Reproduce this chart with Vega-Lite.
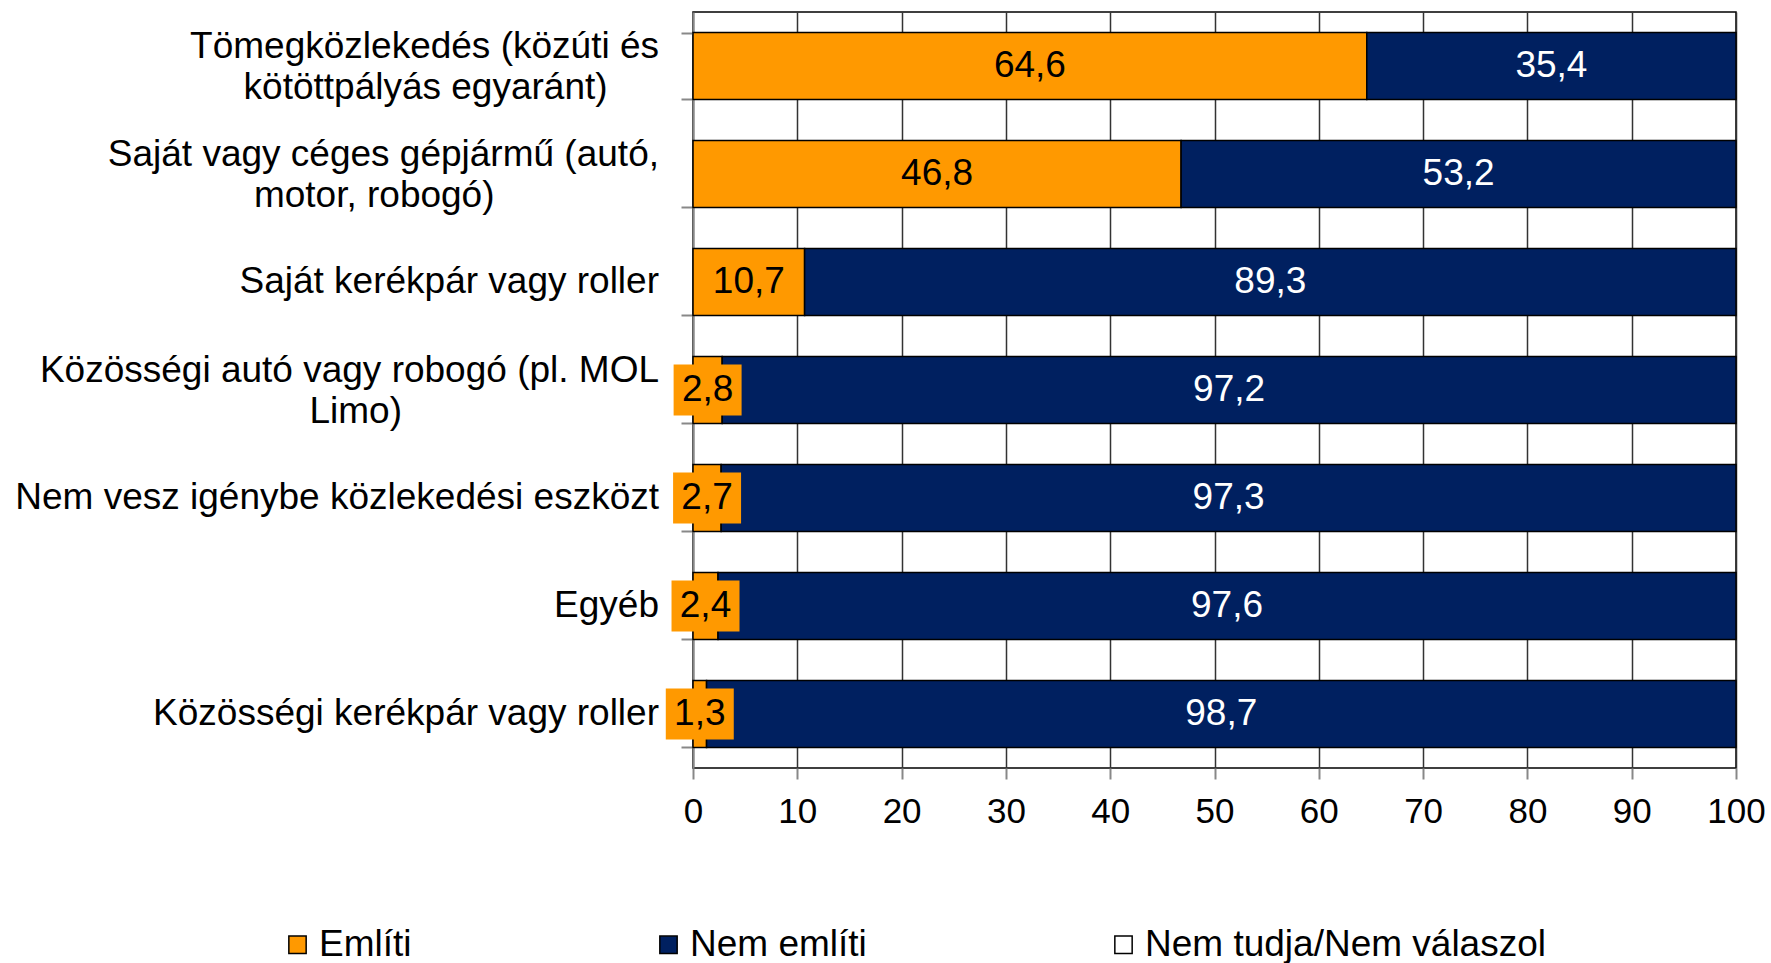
{
  "$schema": "https://vega.github.io/schema/vega-lite/v6.json",
  "width": 1043,
  "height": 756,
  "autosize": "none",
  "padding": {"left": 693, "top": 12, "right": 35, "bottom": 195},
  "background": "white",
  "config": {
    "font": "Liberation Sans",
    "locale": {"number": {"decimal": ",", "thousands": " ", "grouping": [3], "currency": ["", ""]}},
    "view": {"stroke": "black", "strokeWidth": 1.5}
  },
  "data": {
    "values": [
      {"cat": "Tömegközlekedés (közúti és|kötöttpályás egyaránt)", "series": "Említi", "value": 64.6},
      {"cat": "Tömegközlekedés (közúti és|kötöttpályás egyaránt)", "series": "Nem említi", "value": 35.4},
      {"cat": "Saját vagy céges gépjármű (autó,|motor, robogó)", "series": "Említi", "value": 46.8},
      {"cat": "Saját vagy céges gépjármű (autó,|motor, robogó)", "series": "Nem említi", "value": 53.2},
      {"cat": "Saját kerékpár vagy roller", "series": "Említi", "value": 10.7},
      {"cat": "Saját kerékpár vagy roller", "series": "Nem említi", "value": 89.3},
      {"cat": "Közösségi autó vagy robogó (pl. MOL|Limo)", "series": "Említi", "value": 2.8},
      {"cat": "Közösségi autó vagy robogó (pl. MOL|Limo)", "series": "Nem említi", "value": 97.2},
      {"cat": "Nem vesz igénybe közlekedési eszközt", "series": "Említi", "value": 2.7},
      {"cat": "Nem vesz igénybe közlekedési eszközt", "series": "Nem említi", "value": 97.3},
      {"cat": "Egyéb", "series": "Említi", "value": 2.4},
      {"cat": "Egyéb", "series": "Nem említi", "value": 97.6},
      {"cat": "Közösségi kerékpár vagy roller", "series": "Említi", "value": 1.3},
      {"cat": "Közösségi kerékpár vagy roller", "series": "Nem említi", "value": 98.7}
    ]
  },
  "transform": [
    {"stack": "value", "groupby": ["cat"], "sort": [{"field": "series", "order": "ascending"}], "as": ["v0", "v1"]},
    {"calculate": "(datum.v0 + datum.v1) / 2", "as": "mid"}
  ],
  "encoding": {
    "y": {
      "field": "cat",
      "type": "nominal",
      "sort": null,
      "title": null,
      "scale": {"paddingInner": 0.38, "paddingOuter": 0.19},
      "axis": {
        "labels": false,
        "tickBand": "extent",
        "tickSize": 12,
        "tickColor": "#888888",
        "tickWidth": 2,
        "domainColor": "#888888",
        "domainWidth": 2,
        "grid": false
      }
    }
  },
  "layer": [
    {
      "mark": {"type": "bar", "stroke": "black", "strokeWidth": 1.5},
      "encoding": {
        "x": {
          "field": "v0",
          "type": "quantitative",
          "title": null,
          "scale": {"domain": [0, 100], "nice": false},
          "axis": {
            "values": [0, 10, 20, 30, 40, 50, 60, 70, 80, 90, 100],
            "grid": true,
            "gridColor": "#333333",
            "gridWidth": 1.5,
            "domain": false,
            "tickColor": "#888888",
            "tickSize": 11,
            "tickWidth": 2,
            "labelFontSize": 35,
            "labelColor": "black",
            "labelPadding": 15,
            "labelFlush": false
          }
        },
        "x2": {"field": "v1"},
        "color": {
          "field": "series",
          "type": "nominal",
          "scale": {
            "domain": ["Említi", "Nem említi", "Nem tudja/Nem válaszol"],
            "range": ["#FF9900", "#002060", "#FFFFFF"]
          },
          "legend": {
            "title": null,
            "orient": "none",
            "direction": "horizontal",
            "legendX": -414,
            "legendY": 914,
            "columnPadding": 238,
            "symbolType": "square",
            "symbolSize": 300,
            "symbolStrokeColor": "black",
            "symbolStrokeWidth": 1.5,
            "labelFont": "Liberation Sans",
            "labelFontSize": 37,
            "labelColor": "black",
            "labelOffset": 3,
            "labelLimit": 0,
            "padding": 0
          }
        }
      }
    },
    {
      "transform": [{"filter": "datum.series == 'Említi' && datum.value < 5"}],
      "mark": {
        "type": "point",
        "shape": "M-1.333,-1L1.333,-1L1.333,1L-1.333,1Z",
        "size": 2601,
        "filled": true,
        "fill": "#FF9900",
        "opacity": 1,
        "strokeWidth": 0
      },
      "encoding": {
        "x": {"field": "mid", "type": "quantitative"}
      }
    },
    {
      "mark": {"type": "text", "fontSize": 37, "font": "Liberation Sans"},
      "encoding": {
        "x": {"field": "mid", "type": "quantitative"},
        "text": {"field": "value", "type": "quantitative", "format": ".1f"},
        "color": {
          "condition": {"test": "datum.series == 'Említi'", "value": "black"},
          "value": "white"
        }
      }
    },
    {
      "transform": [
        {"filter": "datum.series == 'Említi' && indexof(datum.cat, '|') < 0"}
      ],
      "mark": {"type": "text", "align": "right", "baseline": "middle", "dx": -34, "fontSize": 37, "font": "Liberation Sans", "color": "black"},
      "encoding": {
        "x": {"datum": 0},
        "text": {"field": "cat", "type": "nominal"}
      }
    },
    {
      "transform": [
        {"filter": "datum.series == 'Említi' && indexof(datum.cat, '|') >= 0"},
        {"calculate": "split(datum.cat, '|')[0] + '|' + split(datum.cat, '|')[1] + slice('\u00a0\u00a0\u00a0\u00a0\u00a0\u00a0\u00a0\u00a0\u00a0\u00a0\u00a0\u00a0\u00a0\u00a0\u00a0\u00a0\u00a0\u00a0\u00a0\u00a0\u00a0\u00a0\u00a0\u00a0\u00a0\u00a0\u00a0\u00a0\u00a0\u00a0\u00a0\u00a0\u00a0\u00a0\u00a0\u00a0\u00a0\u00a0\u00a0\u00a0', 0, round((length(split(datum.cat, '|')[0]) - length(split(datum.cat, '|')[1])) * 0.78 + 2)) + '\u200b'", "as": "lbl"}
      ],
      "mark": {"type": "text", "align": "right", "baseline": "line-bottom", "lineBreak": "|", "lineHeight": 41, "dx": -34, "dy": 2, "fontSize": 37, "font": "Liberation Sans", "color": "black"},
      "encoding": {
        "x": {"datum": 0},
        "text": {"field": "lbl", "type": "nominal"}
      }
    }
  ]
}
